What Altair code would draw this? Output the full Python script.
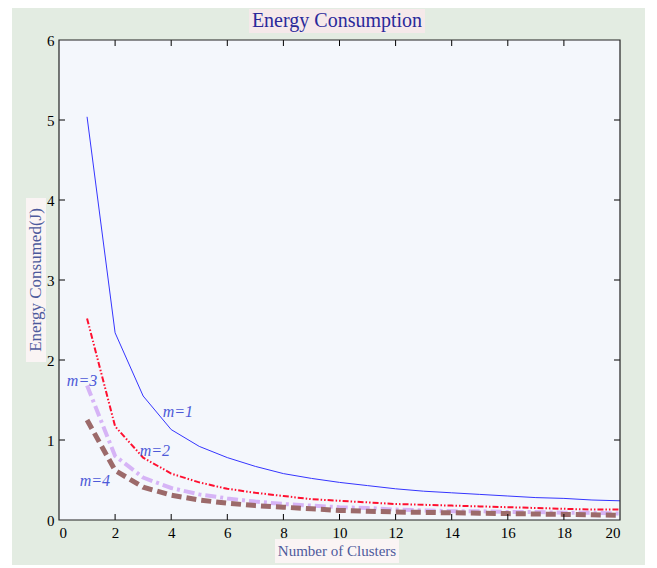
import altair as alt
import pandas as pd

clusters = list(range(1, 21))
m1 = [5.04, 2.34, 1.55, 1.13, 0.92, 0.78, 0.67, 0.58, 0.52, 0.47, 0.43, 0.39, 0.36, 0.34, 0.32, 0.30, 0.28, 0.27, 0.25, 0.24]
m2 = [2.52, 1.17, 0.78, 0.58, 0.47, 0.39, 0.34, 0.30, 0.26, 0.24, 0.22, 0.20, 0.19, 0.18, 0.17, 0.16, 0.15, 0.14, 0.13, 0.13]
m3 = [1.68, 0.80, 0.53, 0.40, 0.32, 0.27, 0.23, 0.20, 0.18, 0.16, 0.15, 0.13, 0.12, 0.11, 0.11, 0.10, 0.10, 0.09, 0.09, 0.08]
m4 = [1.25, 0.62, 0.41, 0.31, 0.25, 0.21, 0.18, 0.16, 0.14, 0.12, 0.11, 0.10, 0.095, 0.09, 0.085, 0.08, 0.075, 0.07, 0.065, 0.06]

label_text = ["m=1", "m=2", "m=3", "m=4"]
label_x = [4.24, 3.42, 0.82, 1.28]
label_y = [1.35, 0.86, 1.74, 0.49]

x_ticks = [0, 2, 4, 6, 8, 10, 12, 14, 16, 18, 20]
y_ticks = [0, 1, 2, 3, 4, 5, 6]

chart_title = "Energy Consumption"
x_title = "Number of Clusters"
y_title = "Energy Consumed(J)"

W, H = 561, 480
FONT = "Liberation Serif"

xs = alt.Scale(domain=[0, 20], nice=False, zero=False)
ys = alt.Scale(domain=[0, 6], nice=False)

x_axis = alt.Axis(values=x_ticks, title=None, grid=False, domain=False, ticks=False, zindex=2,
                  labelFont=FONT, labelFontSize=15, labelColor="black", labelPadding=5)
y_axis = alt.Axis(values=y_ticks, title=None, grid=False, domain=False, ticks=False, zindex=2,
                  labelFont=FONT, labelFontSize=15, labelColor="black", labelPadding=5)

dummy = pd.DataFrame({"a": [0]})

def box(x1, x2, y1, y2, color=None, stroke=None):
    kw = dict(clip=False)
    if color:
        kw["fill"] = color
    else:
        kw["fillOpacity"] = 0
    if stroke:
        kw["stroke"] = stroke
        kw["strokeWidth"] = 1.2
    return alt.Chart(dummy).mark_rect(**kw).encode(
        x=alt.value(x1), x2=alt.value(x2), y=alt.value(y1), y2=alt.value(y2))

def label(txt, x, y, size, color, angle=0):
    return alt.Chart(dummy).mark_text(font=FONT, fontSize=size, color=color, angle=angle,
                                      align="center", baseline="middle").encode(
        x=alt.value(x), y=alt.value(y), text=alt.value(txt))

bg = box(-47, 586, -32, 525, "#e3ece2")
plotbg = box(0, W, 0, H, "#f4f7fc")
title_box = box(190, 366, -31, -7, "#f5e9ea")
xt_box = box(216, 340, 499, 523, "#faf4f4")
yt_box = box(-33, -13, 158, 322, "#faf4f4")
frame = box(0, W, 0, H, None, "#222222")

title_txt = label(chart_title, 278, -19, 20, "#2a2a9a")
xt_txt = label(x_title, 278, 511, 15, "#4d5a9c")
yt_txt = label(y_title, -23, 240, 17, "#4d5a9c", angle=270)

series = [
    (m1, "#3535ff", 1.0, None),
    (m2, "#ff1030", 2.0, [6, 2, 1.5, 2, 1.5, 2]),
    (m3, "#d6b4f6", 4.0, [11, 4, 3, 4]),
    (m4, "#9c6a6a", 5.0, [10, 5]),
]
lines = []
for vals, col, w, dash in series:
    df = pd.DataFrame({"x": clusters, "y": vals})
    kw = dict(color=col, strokeWidth=w)
    if dash:
        kw["strokeDash"] = dash
    lines.append(alt.Chart(df).mark_line(**kw).encode(
        x=alt.X("x:Q", scale=xs, axis=x_axis),
        y=alt.Y("y:Q", scale=ys, axis=y_axis)))

lab_df = pd.DataFrame({"t": label_text, "x": label_x, "y": label_y})
labels = alt.Chart(lab_df).mark_text(font=FONT, fontSize=16, fontStyle="italic", color="#4d5ad8").encode(
    x=alt.X("x:Q", scale=xs, axis=x_axis), y=alt.Y("y:Q", scale=ys, axis=y_axis), text="t:N")

# inward ticks
xt_df = pd.DataFrame({"v": x_ticks[1:-1]})
yt_df = pd.DataFrame({"v": y_ticks[1:-1]})
tick_style = dict(color="black", strokeWidth=1)
bot_ticks = alt.Chart(xt_df).mark_rule(**tick_style).encode(
    x=alt.X("v:Q", scale=xs, axis=x_axis), y=alt.value(H), y2=alt.value(H - 6))
top_ticks = alt.Chart(xt_df).mark_rule(**tick_style).encode(
    x=alt.X("v:Q", scale=xs, axis=x_axis), y=alt.value(0), y2=alt.value(6))
left_ticks = alt.Chart(yt_df).mark_rule(**tick_style).encode(
    y=alt.Y("v:Q", scale=ys, axis=y_axis), x=alt.value(0), x2=alt.value(6))
right_ticks = alt.Chart(yt_df).mark_rule(**tick_style).encode(
    y=alt.Y("v:Q", scale=ys, axis=y_axis), x=alt.value(W), x2=alt.value(W - 6))

chart = alt.layer(
    bg, plotbg, title_box, xt_box, yt_box, title_txt, xt_txt, yt_txt, *lines, labels,
    bot_ticks, top_ticks, left_ticks, right_ticks, frame
).properties(
    width=W, height=H,
    autosize=alt.AutoSizeParams(type="none"),
    padding={"left": 59, "top": 40, "right": 37, "bottom": 48},
    background="white",
).configure_view(stroke=None)

chart.save("out.html", embed_options={"renderer": "svg", "actions": False})
